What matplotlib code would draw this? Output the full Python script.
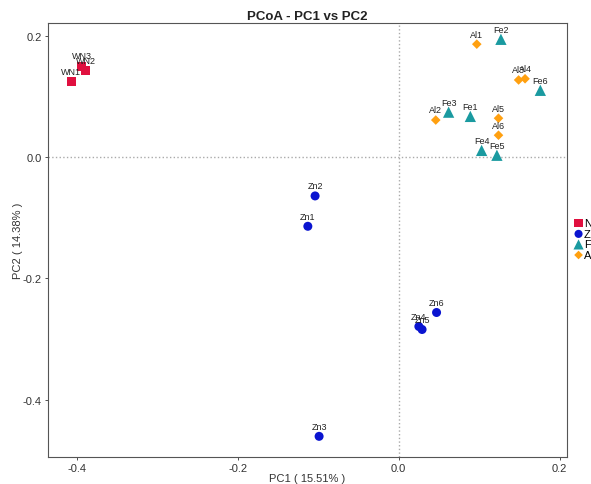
import matplotlib
matplotlib.use("Agg")
import matplotlib.pyplot as plt

plt.rcParams['font.family'] = ['Liberation Sans', 'DejaVu Sans']

groups = ["N", "Z", "F", "A"]
colors = {"N": "#E0103F", "Z": "#0A14D0", "F": "#1A9AA0", "A": "#FFA010"}
markers = {"N": "s", "Z": "o", "F": "^", "A": "D"}
sizes = {"N": 42, "Z": 42, "F": 66, "A": 24}

n_names = ["WN1", "WN2", "WN3"]
n_x = [-0.407, -0.389, -0.394]
n_y = [0.124, 0.142, 0.150]

z_names = ["Zn1", "Zn2", "Zn3", "Zn4", "Zn5", "Zn6"]
z_x = [-0.113, -0.104, -0.099, 0.025, 0.029, 0.047]
z_y = [-0.114, -0.064, -0.460, -0.279, -0.284, -0.256]

f_names = ["Fe1", "Fe2", "Fe3", "Fe4", "Fe5", "Fe6"]
f_x = [0.089, 0.127, 0.062, 0.103, 0.122, 0.176]
f_y = [0.067, 0.194, 0.074, 0.011, 0.003, 0.110]

a_names = ["Al1", "Al2", "Al3", "Al4", "Al5", "Al6"]
a_x = [0.097, 0.046, 0.149, 0.157, 0.124, 0.124]
a_y = [0.186, 0.061, 0.127, 0.129, 0.064, 0.036]

data = {"N": (n_names, n_x, n_y), "Z": (z_names, z_x, z_y),
        "F": (f_names, f_x, f_y), "A": (a_names, a_x, a_y)}

fig = plt.figure(figsize=(5.91, 4.85), dpi=100)
ax = fig.add_axes([0.0812, 0.0557, 0.878, 0.895])

ax.axvline(0, color="#aaaaaa", linestyle=":", linewidth=1, zorder=0)
ax.axhline(0, color="#aaaaaa", linestyle=":", linewidth=1, zorder=0)

handles = []
for g in groups:
    names, xs, ys = data[g]
    h = ax.scatter(xs, ys, marker=markers[g], s=sizes[g], color=colors[g],
                   edgecolors="none", label=g, zorder=3)
    handles.append(h)
    for nm, x, y in zip(names, xs, ys):
        ax.annotate(nm, (x, y), xytext=(0, 4), textcoords="offset points",
                    ha="center", va="bottom", fontsize=6.5, color="#222222")

ax.set_xlim(-0.436, 0.209)
ax.set_ylim(-0.494, 0.221)
ax.set_xticks([-0.4, -0.2, 0.0, 0.2])
ax.set_yticks([-0.4, -0.2, 0.0, 0.2])
ax.set_xticklabels(["-0.4", "-0.2", "0.0", "0.2"])
ax.set_yticklabels(["-0.4", "-0.2", "0.0", "0.2"])
ax.tick_params(labelsize=8, colors="#333333", length=2.5, width=0.6, pad=2)
for s in ax.spines.values():
    s.set_color("#555555")
    s.set_linewidth(0.8)

ax.set_xlabel("PC1 ( 15.51% )", fontsize=8, color="#333333", labelpad=0)
ax.set_ylabel("PC2 ( 14.38% )", fontsize=8, color="#333333", labelpad=0)
ax.set_title("PCoA - PC1 vs PC2", fontsize=9.5, fontweight="bold", color="#222222", pad=3)

fig.legend(handles=handles, labels=groups, loc="center left",
           bbox_to_anchor=(0.962, 0.505), frameon=False, fontsize=8,
           handletextpad=0.1, borderpad=0, labelspacing=0.05, handlelength=0.8,
           markerscale=0.9)

fig.savefig("out.png", dpi=100)
